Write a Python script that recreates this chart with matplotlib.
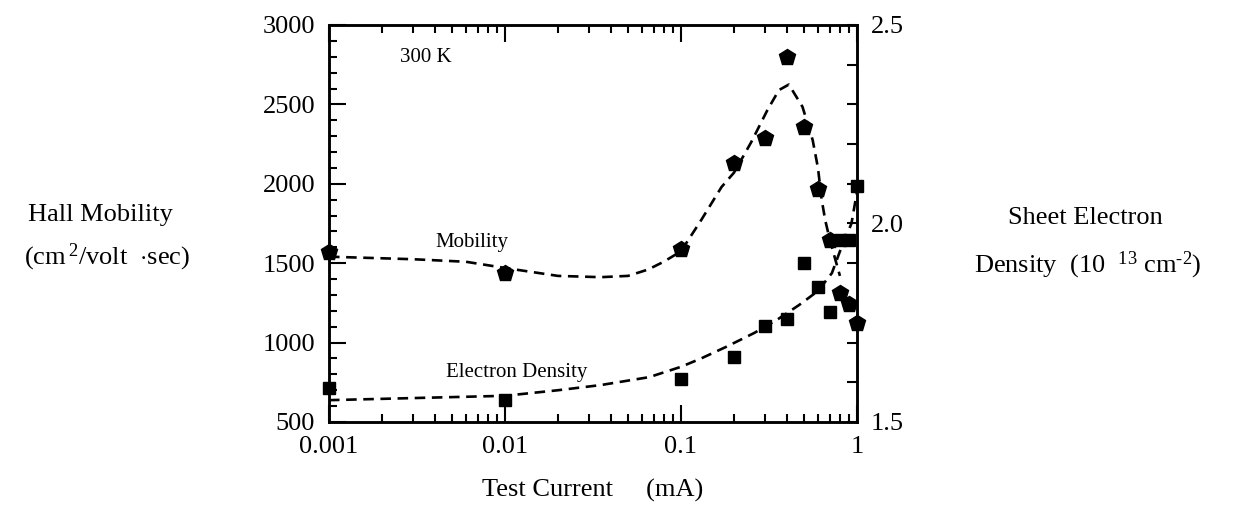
import matplotlib.pyplot as plt
from matplotlib.ticker import FixedLocator, MultipleLocator, LogLocator, NullFormatter

plt.rcParams['font.family'] = ['Liberation Serif', 'DejaVu Serif']
plt.rcParams['mathtext.fontset'] = 'custom'
plt.rcParams['mathtext.rm'] = 'Liberation Serif'
plt.rcParams['mathtext.default'] = 'rm'

# measured points
current = [0.001, 0.01, 0.1, 0.2, 0.3, 0.4, 0.5, 0.6, 0.7, 0.8, 0.9, 1.0]
mobility = [1570, 1440, 1590, 2130, 2290, 2800, 2360, 1965, 1645, 1310, 1240, 1125]
density = [1.585, 1.555, 1.608, 1.664, 1.742, 1.759, 1.90, 1.84, 1.777, 1.958, 1.958, 2.094]

# dashed guide curves
mob_fit_x = [0.001, 0.003, 0.006, 0.01, 0.02, 0.035, 0.05, 0.065, 0.08, 0.1, 0.13, 0.17,
             0.2, 0.25, 0.31, 0.36, 0.41, 0.49, 0.56, 0.6, 0.63, 0.66, 0.7, 0.75, 0.8]
mob_fit_y = [1541, 1525, 1509, 1470, 1420, 1412, 1420, 1460, 1510, 1575, 1770, 1980,
             2070, 2260, 2465, 2590, 2625, 2485, 2275, 2100, 1900, 1770, 1650, 1530, 1420]
den_fit_x = [0.001, 0.01, 0.02, 0.035, 0.066, 0.1, 0.13, 0.18, 0.26, 0.35, 0.47, 0.6,
             0.72, 0.8, 0.93, 1.0]
den_fit_y = [1.555, 1.566, 1.58, 1.593, 1.613, 1.639, 1.66, 1.689, 1.724, 1.757, 1.795, 1.83,
             1.875, 1.93, 2.0, 2.08]

fig = plt.figure(figsize=(12.48, 5.08), dpi=100)
ax = fig.add_axes([0.2636, 0.1693, 0.4231, 0.7815])
ax2 = ax.twinx()

dash = (0, (4, 2.5))
ax.plot(mob_fit_x, mob_fit_y, color='black', lw=1.9, linestyle=dash)
ax.plot(current, mobility, 'p', color='black', markersize=12, clip_on=False, zorder=5)
ax2.plot(den_fit_x, den_fit_y, color='black', lw=1.9, linestyle=dash)
ax2.plot(current, density, 's', color='black', markersize=9, clip_on=False, zorder=5)

ax.set_xscale('log')
ax.set_xlim(0.001, 1)
ax.set_ylim(500, 3000)
ax2.set_ylim(1.5, 2.5)

ax.xaxis.set_major_locator(FixedLocator([0.001, 0.01, 0.1, 1]))
ax.xaxis.set_minor_locator(LogLocator(base=10, subs=range(2, 10)))
ax.xaxis.set_minor_formatter(NullFormatter())
ax.set_xticklabels(['0.001', '0.01', '0.1', '1'])
ax.yaxis.set_major_locator(MultipleLocator(500))
ax.yaxis.set_minor_locator(MultipleLocator(100))
ax2.yaxis.set_major_locator(FixedLocator([1.5, 2.0, 2.5]))
ax2.yaxis.set_minor_locator(MultipleLocator(0.1))
ax2.set_yticklabels(['1.5', '2.0', '2.5'])

ax.tick_params(which='both', direction='in', top=True, labelsize=19, width=1.5, pad=10)
ax.tick_params(which='major', length=12)
ax.tick_params(which='minor', length=6)
ax2.tick_params(which='both', direction='in', labelsize=19, width=1.5, pad=10, length=7)
for a in (ax, ax2):
    for s in a.spines.values():
        s.set_linewidth(1.8)

fig.text(400 / 1248, 1 - 57 / 508, '300 K', fontsize=15, va='center')
fig.text(472 / 1248, 1 - 242 / 508, 'Mobility', fontsize=15, ha='center', va='center')
fig.text(517 / 1248, 1 - 373 / 508, 'Electron Density', fontsize=15, ha='center', va='center')

fig.text(100 / 1248, 1 - 215 / 508, 'Hall Mobility', fontsize=19, ha='center', va='center')
fig.text(107 / 1248, 1 - 257 / 508, r'(cm$^{\,2}$/volt  $\cdot$sec)', fontsize=19,
         ha='center', va='center')
fig.text(1085 / 1248, 1 - 218 / 508, 'Sheet Electron', fontsize=19, ha='center', va='center')
fig.text(1088 / 1248, 1 - 265 / 508, r'Density  (10  $^{13}$ cm$^{\text{-}2}$)', fontsize=19,
         ha='center', va='center')
fig.text(593 / 1248, 1 - 490 / 508, 'Test Current     (mA)', fontsize=19, ha='center', va='center')

fig.savefig('out.png', dpi=100)
